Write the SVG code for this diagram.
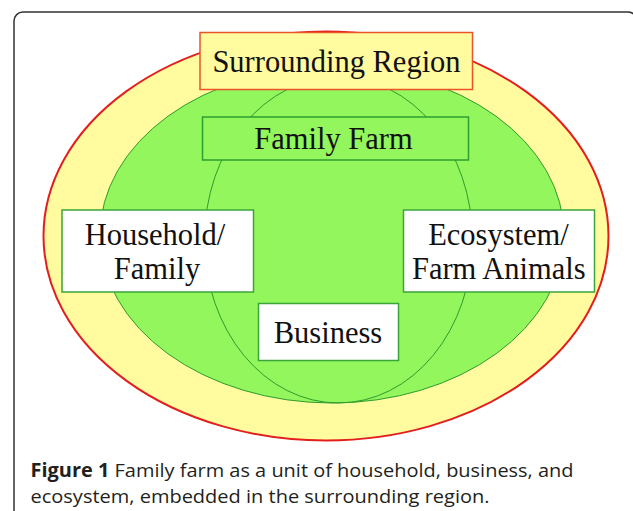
<svg xmlns="http://www.w3.org/2000/svg" width="633" height="511" viewBox="0 0 633 511">
  <style>
    .lbl { font-family: "Liberation Serif", "Times New Roman", serif; font-size: 30.5px; fill: #111; text-anchor: middle; }
    .cap { font-family: "Open Sans", "Liberation Sans", sans-serif; font-size: 19px; fill: #231f20; }
    .gline { fill: none; stroke: #2e9b2e; stroke-width: 1; }
    .wbox { fill: #ffffff; stroke: #3aa53a; stroke-width: 1.5; }
  </style>
  <rect x="0" y="0" width="633" height="511" fill="#ffffff"/>
  <rect id="frame" x="14" y="12" width="623" height="520" rx="9" ry="9" fill="none" stroke="#333333" stroke-width="1.5"/>

  <g id="region-ellipse">
    <ellipse cx="326" cy="236" rx="282.5" ry="204.5" fill="#fffb9e" stroke="#e31e1e" stroke-width="2"/>
  </g>
  <g id="farm-ellipse">
    <ellipse cx="332" cy="235" rx="232" ry="168" fill="#93f65c" stroke="#2e9b2e" stroke-width="1"/>
  </g>
  <g id="business-ellipse">
    <ellipse class="gline" cx="338.5" cy="240" rx="134" ry="163"/>
  </g>

  <g id="surrounding-region">
    <rect x="200" y="32.5" width="272.5" height="57" fill="#fffb9e" stroke="#e8552b" stroke-width="1.5"/>
    <text class="lbl" x="336.5" y="72">Surrounding Region</text>
  </g>
  <g id="family-farm">
    <rect x="202.5" y="117" width="266" height="43" fill="#93f65c" stroke="#2e9e2e" stroke-width="1.5"/>
    <text class="lbl" x="333.5" y="148.5">Family Farm</text>
  </g>
  <g id="household">
    <rect class="wbox" x="62" y="210" width="191.5" height="82"/>
    <text class="lbl" x="155" y="245">Household/</text>
    <text class="lbl" x="157" y="279">Family</text>
  </g>
  <g id="ecosystem">
    <rect class="wbox" x="403.5" y="210" width="191" height="82"/>
    <text class="lbl" x="498.5" y="244.5">Ecosystem/</text>
    <text class="lbl" x="498.8" y="278.5">Farm Animals</text>
  </g>
  <g id="business">
    <rect class="wbox" x="258.5" y="303.5" width="140" height="57"/>
    <text class="lbl" x="328" y="342.8">Business</text>
  </g>

  <g id="connectors"></g>

  <g id="caption">
    <text class="cap" x="30.5" y="476.7" textLength="543" lengthAdjust="spacingAndGlyphs"><tspan font-weight="bold">Figure 1</tspan> Family farm as a unit of household, business, and</text>
    <text class="cap" x="30.5" y="503.3" textLength="459" lengthAdjust="spacingAndGlyphs">ecosystem, embedded in the surrounding region.</text>
  </g>
</svg>
